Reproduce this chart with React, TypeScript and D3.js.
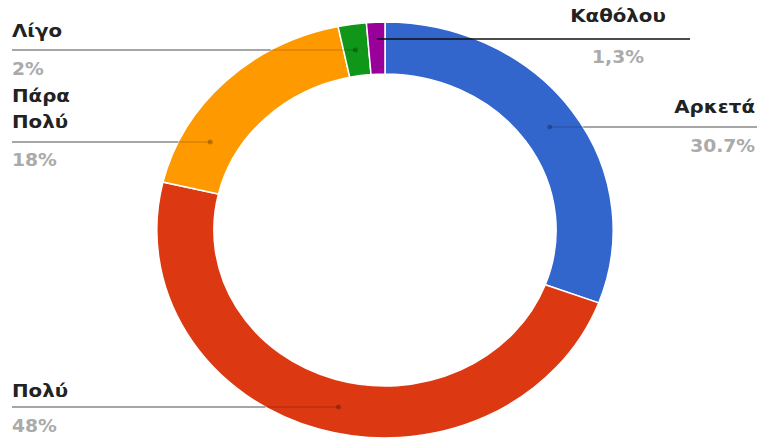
import React from 'react';
import * as d3 from 'd3';

const categories = ['Αρκετά', 'Πολύ', 'Πάρα Πολύ', 'Λίγο', 'Καθόλου'];
const values = [30.7, 48, 18, 2, 1.3];
const valueLabels = ['30.7%', '48%', '18%', '2%', '1,3%'];
const colors = ['#3366cc', '#dc3912', '#ff9900', '#109618', '#990099'];

const W = 759;
const H = 442;
const CX = 385;
const CY = 230;
const R_OUT = 208;
const R_IN = 156;
const SX = 1.097;
const TX = 1.1;

type Lay = { lines: string[]; x: number; anchor: 'start' | 'end' | 'middle'; labelY: number; lineY: number; valueY: number; lineFrom: number; side: number; dark?: boolean };

const layout: Lay[] = [
  { lines: ['Αρκετά'], x: 755, anchor: 'end', labelY: 113, lineY: 127, valueY: 152, lineFrom: 757, side: 1 },
  { lines: ['Πολύ'], x: 12, anchor: 'start', labelY: 397, lineY: 407, valueY: 432, lineFrom: 12, side: -1 },
  { lines: ['Πάρα', 'Πολύ'], x: 12, anchor: 'start', labelY: 128, lineY: 142, valueY: 166, lineFrom: 12, side: -1 },
  { lines: ['Λίγο'], x: 12, anchor: 'start', labelY: 37, lineY: 50, valueY: 75, lineFrom: 12, side: -1 },
  { lines: ['Καθόλου'], x: 618, anchor: 'middle', labelY: 22, lineY: 39, valueY: 63, lineFrom: 690, side: 1, dark: true },
];

export default function App() {
  const pie = d3.pie<number>().sort(null).value((d) => d).startAngle(0).endAngle(2 * Math.PI);
  const arcs = pie(values);
  const arc = d3.arc<d3.PieArcDatum<number>>().innerRadius(R_IN).outerRadius(R_OUT);
  const rMid = (R_IN + R_OUT) / 2;

  return (
    <svg width={W} height={H} style={{ position: 'absolute', left: 0, top: 0, background: '#fff' }}>
      <g transform={`translate(${CX},${CY}) scale(${SX},1)`}>
        {arcs.map((a, i) => (
          <path key={categories[i]} d={arc(a) || ''} fill={colors[i]} stroke="#fff" strokeWidth={1.5} vectorEffect="non-scaling-stroke" />
        ))}
      </g>
      {layout.map((l, i) => {
        const a = arcs[i];
        const dy = l.lineY - CY;
        let dotX: number;
        if (Math.abs(dy) < rMid) {
          dotX = CX + l.side * SX * Math.sqrt(rMid * rMid - dy * dy);
        } else {
          const c = arc.centroid(a);
          dotX = CX + c[0] * SX;
        }
        const outerX = Math.abs(dy) < R_OUT ? CX + l.side * SX * Math.sqrt(R_OUT * R_OUT - dy * dy) : dotX;
        return (
          <g key={categories[i]}>
            {l.dark ? (
              <line x1={dotX} x2={l.lineFrom} y1={l.lineY} y2={l.lineY} stroke="#111" strokeWidth={1.6} />
            ) : (
              <>
                <line x1={outerX} x2={l.lineFrom} y1={l.lineY} y2={l.lineY} stroke="#888" strokeWidth={1.3} />
                <line x1={dotX} x2={outerX} y1={l.lineY} y2={l.lineY} stroke="#000" strokeOpacity={0.15} strokeWidth={1.3} />
                <circle cx={dotX} cy={l.lineY} r={2.5} fill="#000" fillOpacity={0.25} />
              </>
            )}
            {l.lines.map((t, k) => (
              <text
                key={k}
                transform={`translate(${l.x},${l.labelY - (l.lines.length - 1 - k) * 26}) scale(${TX},1)`}
                textAnchor={l.anchor}
                fontFamily="'DejaVu Sans', sans-serif"
                fontWeight="bold"
                fontSize={18}
                fill="#222"
              >
                {t}
              </text>
            ))}
            <text
              transform={`translate(${l.x},${l.valueY}) scale(${TX},1)`}
              textAnchor={l.anchor}
              fontFamily="'DejaVu Sans', sans-serif"
              fontWeight="bold"
              fontSize={17}
              fill="#aaa"
            >
              {valueLabels[i]}
            </text>
          </g>
        );
      })}
    </svg>
  );
}
